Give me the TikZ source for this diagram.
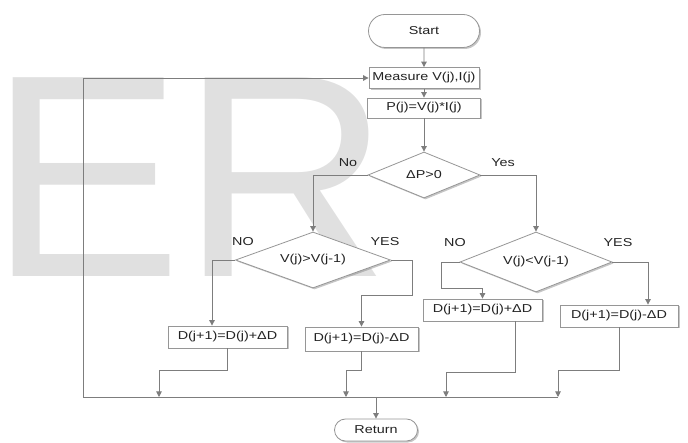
\documentclass[tikz,border=0pt]{standalone}
\usepackage{fontspec}
\setmainfont[FakeStretch=1.25]{Liberation Sans}
\newfontfamily\markfont{Liberation Sans}
\usetikzlibrary{arrows.meta,calc,shapes.geometric,shapes.misc,shadows}
\definecolor{linegray}{RGB}{125,125,125}
\definecolor{boxgray}{RGB}{150,150,150}
\definecolor{markgray}{RGB}{224,224,224}
\definecolor{textgray}{RGB}{35,35,35}

\begin{document}
\begin{tikzpicture}[x=1pt,y=-1pt,
        font=\fontsize{11.5}{12}\selectfont,text=textgray,
        conn/.style={draw=linegray,line width=0.9pt},
        arr/.style={conn,-{Triangle[width=5.5pt,length=5.5pt]}},
        box/.style={draw=boxgray,fill=white,line width=0.8pt,inner sep=0pt,
            drop shadow={shadow xshift=1.5pt,shadow yshift=-1.5pt,fill=gray,opacity=0.45}},
        term/.style={box,rounded rectangle},
        proc/.style={box,rectangle},
        cond/.style={box,diamond,aspect=2.5},
        lbl/.style={inner sep=0pt}]
        \useasboundingbox (0,0) rectangle (688,443);
        \node [anchor=base west,inner sep=0pt,text=markgray,font=\markfont\fontsize{289}{289}\selectfont] (mark) at (-11,277) {ER};
        \node [term,minimum width=111,minimum height=33] (start) at (424,31) {Start};
        \node [proc,minimum width=110,minimum height=21] (measure) at (424,78) {Measure V(j),I(j)};
        \node [proc,minimum width=113,minimum height=20] (power) at (424,108) {P(j)=V(j)*I(j)};
        \node [cond,minimum width=112,minimum height=46] (dp) at (424,175) {ΔP>0};
        \node [cond,minimum width=155,minimum height=56] (vgt) at (313,260) {V(j)>V(j-1)};
        \node [cond,minimum width=152,minimum height=60] (vlt) at (536,262) {V(j)<V(j-1)};
        \node [proc,minimum width=119,minimum height=22] (inc1) at (227.5,337) {D(j+1)=D(j)+ΔD};
        \node [proc,minimum width=113,minimum height=24] (dec1) at (361.5,339) {D(j+1)=D(j)-ΔD};
        \node [proc,minimum width=119,minimum height=22] (inc2) at (482.5,310) {D(j+1)=D(j)+ΔD};
        \node [proc,minimum width=118,minimum height=22] (dec2) at (619,316) {D(j+1)=D(j)-ΔD};
        \node [term,minimum width=83,minimum height=22] (ret) at (376,430) {Return};
        \node [lbl] (no1) at (348,163) {No};
        \node [lbl] (yes1) at (503,163) {Yes};
        \node [lbl] (no2) at (243,242) {NO};
        \node [lbl] (yes2) at (385,242) {YES};
        \node [lbl] (no3) at (455,243) {NO};
        \node [lbl] (yes3) at (618,243) {YES};
        \coordinate (bl) at (83,397);
        \coordinate (b1) at (159,397);
        \coordinate (b2) at (346,397);
        \coordinate (bj) at (376,397);
        \coordinate (b3) at (446,397);
        \coordinate (b4) at (558,397);
        \draw [arr] (start) -- (measure);
        \draw [arr] (measure) -- (power);
        \draw [arr] (power) -- (dp);
        \draw [arr] (dp.west) -| (vgt.north);
        \draw [arr] (dp.east) -| (vlt.north);
        \draw [arr] (vgt.west) -| ([xshift=-15.5pt]inc1.north);
        \draw [arr] (vgt.east) -- ++(22,0) -- ++(0,35) -| (dec1.north);
        \draw [arr] (vlt.west) -- ++(-18,0) -- ++(0,26) -| (inc2.north);
        \draw [arr] (vlt.east) -| ([xshift=29pt]dec2.north);
        \draw [arr] (inc1.south) -- ++(0,22) -| (b1);
        \draw [arr] (dec1.south) -- ++(0,19) -| (b2);
        \draw [arr] ([xshift=32.5pt]inc2.south) -- ++(0,51) -| (b3);
        \draw [arr] (dec2.south) -- ++(0,43) -| (b4);
        \draw [conn] (b4) -- (bl);
        \draw [arr] (bl) |- (measure.west);
        \draw [arr] (bj) -- (ret);
\end{tikzpicture}
\end{document}
